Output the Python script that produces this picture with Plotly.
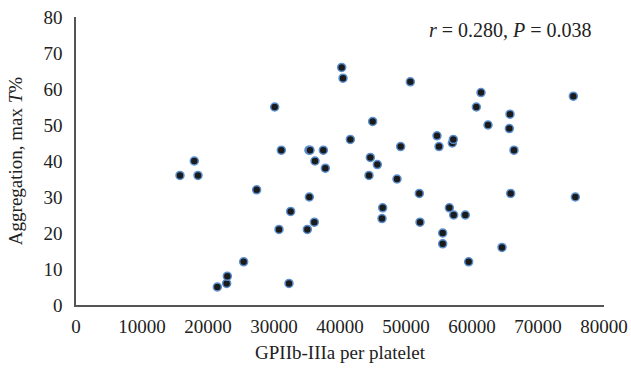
import plotly.graph_objects as go

gp_per_platelet = [15758, 17924, 18485, 21414, 22828, 22929, 25404, 27373, 30101, 30758,
                   31111, 32273, 32525, 35050, 35354, 35300, 35455, 36111, 36212, 37475,
                   37778, 40253, 40455, 41566, 44394, 44596, 44949, 45657, 46364, 46465,
                   48636, 49192, 50657, 52020, 52121, 54697, 55000, 55556, 55556, 56566,
                   57020, 57172, 57222, 58990, 59495, 60657, 61364, 62424, 64545, 65657,
                   65758, 65859, 66364, 75354, 75657]
aggregation = [36, 40, 36, 5, 6, 8, 12, 32, 55, 21,
               43, 6, 26, 21, 30, 43, 43, 23, 40, 43,
               38, 66, 63, 46, 36, 41, 51, 39, 24, 27,
               35, 44, 62, 31, 23, 47, 44, 20, 17, 27,
               45, 46, 25, 25, 12, 55, 59, 50, 16, 49,
               53, 31, 43, 58, 30]
x_ticks = [0, 10000, 20000, 30000, 40000, 50000, 60000, 70000, 80000]
y_ticks = [0, 10, 20, 30, 40, 50, 60, 70, 80]

FONT = "Liberation Serif"
TXT = "#222222"

fig = go.Figure(go.Scatter(
    x=gp_per_platelet, y=aggregation, mode="markers",
    marker=dict(size=8, color="#1b1b1b", line=dict(color="#5b8fd0", width=1.5)),
    showlegend=False, cliponaxis=False, hoverinfo="skip",
))

fig.update_layout(
    width=631, height=368,
    margin=dict(l=76, r=27, t=17, b=63),
    paper_bgcolor="white", plot_bgcolor="white",
    font=dict(family=FONT, size=19, color=TXT),
    xaxis=dict(range=[0, 80000], tickvals=x_ticks, ticktext=[str(v) for v in x_ticks],
               showgrid=False, zeroline=False, showline=True, linecolor="#555555",
               linewidth=1.5, ticks="", ticklabelstandoff=3, automargin=False,
               title=dict(text="GPIIb-IIIa per platelet", font=dict(size=19), standoff=10)),
    yaxis=dict(range=[0, 80], tickvals=y_ticks, showgrid=False, zeroline=False,
               showline=True, linecolor="#555555", linewidth=1.5, ticks="",
               ticklabelstandoff=8, automargin=False,
               title=dict(text="Aggregation, max <i>T</i>%", font=dict(size=19), standoff=16)),
    annotations=[dict(x=510, y=30, xref="paper", yref="paper", showarrow=False,
                      text="<i>r</i> = 0.280, <i>P</i> = 0.038",
                      font=dict(size=20, family=FONT, color=TXT))],
)
fig.layout.annotations[0].update(xref="x", yref="y",
                                 x=(510 - 76) / 66 * 10000, y=(305 - 30) / 3.6)
fig.write_html("out.html", config={"displayModeBar": False},
               post_script="document.body.style.margin='0';document.body.style.padding='0';")
